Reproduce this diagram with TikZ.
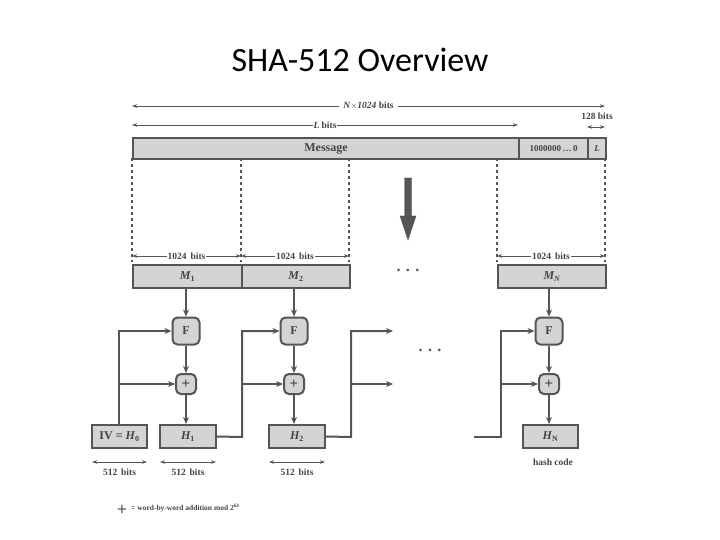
\documentclass[tikz,border=0pt]{standalone}
\usepackage{fontspec}
\setmainfont{Liberation Serif}
\newfontfamily\titlefont{Carlito}
\usetikzlibrary{arrows.meta}
\definecolor{ln}{HTML}{555555}
\definecolor{fl}{HTML}{D4D4D4}
\begin{document}
\begin{tikzpicture}[x=1pt,y=-1pt,
  bx/.style={draw=ln,line width=2pt,fill=fl,inner sep=0pt,font=\bfseries\fontsize{12}{12}\selectfont,text=ln!80!black},
  fbox/.style={bx,rounded corners=5pt,minimum size=27pt},
  pbox/.style={bx,rounded corners=5pt,minimum size=20pt,font=\bfseries\fontsize{15}{15}\selectfont},
  ar/.style={draw=ln,line width=2pt,-{Stealth[length=7pt,width=6pt]}},
  dim/.style={draw=ln,line width=0.8pt,{Stealth[length=5pt,width=3.5pt]}-{Stealth[length=5pt,width=3.5pt]}},
  lbl/.style={font=\bfseries\fontsize{9.5}{9.5}\selectfont,text=ln!80!black,inner sep=1pt},
  dsh/.style={draw=ln,line width=1.6pt,dash pattern=on 3pt off 3pt}]
\useasboundingbox (0,0) rectangle (720,540);
\node[font=\titlefont\fontsize{34}{34}\selectfont] (title) at (360,60) {SHA-512 Overview};
% message bar
\node[bx,minimum width=386pt,minimum height=21pt,anchor=north west] (msg) at (132,137) {Message};
\node[bx,minimum width=69pt,minimum height=21pt,anchor=north west,font=\bfseries\fontsize{9}{9}\selectfont] (pad) at (518,137) {1000000\,\dots\,0};
\node[bx,minimum width=18pt,minimum height=21pt,anchor=north west,font=\bfseries\itshape\fontsize{9}{9}\selectfont] (len) at (587,137) {L};
% top dimensions
\coordinate (a1) at (132,106); \coordinate (a2) at (605,106);
\draw[dim] (a1) -- node[lbl,fill=white,inner xsep=4pt] {\itshape N\upshape$\times$\itshape 1024\upshape\ bits} (a2);
\coordinate (b1) at (132,125); \coordinate (b2) at (518,125);
\draw[dim] (b1) -- node[lbl,fill=white] {\itshape L\upshape\ bits} (b2);
\coordinate (c1) at (587,127); \coordinate (c2) at (605,127);
\draw[dim] (c1) -- (c2);
\node[lbl] (l128) at (597,116) {128 bits};
% dashed lines
\foreach \x/\n in {132/d1,241/d2,349/d3,497/d4,605/d5}{
  \coordinate (\n t) at (\x,158); \coordinate (\n b) at (\x,262);
  \draw[dsh] (\n t) -- (\n b);}
% big arrow
\draw[draw=ln,fill=ln] (404.5,178) -- (411.5,178) -- (411.5,216) -- (416,216) -- (408,240) -- (400,216) -- (404.5,216) -- cycle;
% blocks
\node[bx,minimum width=109pt,minimum height=23pt,anchor=north west,font=\bfseries\itshape\fontsize{12}{12}\selectfont] (M1) at (132,264) {M\textsubscript{\upshape 1}};
\node[bx,minimum width=108pt,minimum height=23pt,anchor=north west,font=\bfseries\itshape\fontsize{12}{12}\selectfont] (M2) at (241,264) {M\textsubscript{\upshape 2}};
\node[bx,minimum width=108pt,minimum height=23pt,anchor=north west,font=\bfseries\itshape\fontsize{12}{12}\selectfont] (MN) at (497,264) {M\textsubscript{N}};
\node[font=\bfseries\fontsize{16}{16}\selectfont,text=ln] (dots1) at (408,270) {.\,\,.\,\,.};
\foreach \l/\r/\n in {132/241/m1,241/349/m2,497/605/mn}{
  \coordinate (\n l) at (\l,256); \coordinate (\n r) at (\r,256);
  \draw[dim] (\n l) -- node[lbl,fill=white] {1024\, bits} (\n r);}
% F and + boxes
\node[fbox] (F1) at (186,331) {F};
\node[fbox] (F2) at (294,331) {F};
\node[fbox] (FN) at (549,331) {F};
\node[pbox] (P1) at (186,384) {+};
\node[pbox] (P2) at (294,384) {+};
\node[pbox] (PN) at (549,384) {+};
\node[bx,minimum width=55pt,minimum height=23pt] (H0) at (119.5,436.5) {IV = \itshape H\textsubscript{\upshape 0}};
\node[bx,minimum width=56pt,minimum height=23pt,font=\bfseries\itshape\fontsize{12}{12}\selectfont] (H1) at (188,436.5) {H\textsubscript{\upshape 1}};
\node[bx,minimum width=56pt,minimum height=23pt,font=\bfseries\itshape\fontsize{12}{12}\selectfont] (H2) at (297,436.5) {H\textsubscript{\upshape 2}};
\node[bx,minimum width=55pt,minimum height=23pt,font=\bfseries\itshape\fontsize{12}{12}\selectfont] (HN) at (550.5,436.5) {H\textsubscript{\upshape N}};
\draw[ar] (M1.south -| F1) -- (F1);
\draw[ar] (M2.south -| F2) -- (F2);
\draw[ar] (MN.south -| FN) -- (FN);
\draw[ar] (F1) -- (P1); \draw[ar] (P1) -- (P1 |- H1.north);
\draw[ar] (F2) -- (P2); \draw[ar] (P2) -- (P2 |- H2.north);
\draw[ar] (FN) -- (PN); \draw[ar] (PN) -- (PN |- HN.north);
% feedback
\coordinate (k0) at (119,331); \coordinate (k0p) at (119,384);
\draw[ar] (H0.north -| k0) -- (k0) -- (F1);
\draw[ar] (k0p) -- (P1);
\coordinate (k1) at (242,437); \coordinate (k1t) at (242,331); \coordinate (k1p) at (242,384);
\draw[ar] (H1.east) -- (k1) -- (k1t) -- (F2);
\draw[ar] (k1p) -- (P2);
\coordinate (k2) at (351,437); \coordinate (k2t) at (351,331); \coordinate (k2p) at (351,384);
\coordinate (e2t) at (393,331); \coordinate (e2p) at (393,384);
\draw[ar] (H2.east) -- (k2) -- (k2t) -- (e2t);
\draw[ar] (k2p) -- (e2p);
\coordinate (s3) at (474,437); \coordinate (k3) at (501,437); \coordinate (k3t) at (501,331); \coordinate (k3p) at (501,384);
\draw[ar] (s3) -- (k3) -- (k3t) -- (FN);
\draw[ar] (k3p) -- (PN);
\node[font=\bfseries\fontsize{16}{16}\selectfont,text=ln] (dots2) at (430,350) {.\,\,.\,\,.};
% 512 bits
\foreach \h/\n in {H0/q0,H1/q1,H2/q2}{
  \coordinate (\n l) at ([xshift=1pt]\h.west |- 0,462); \coordinate (\n r) at ([xshift=-1pt]\h.east |- 0,462);
  \draw[dim] (\n l) -- (\n r);
  \node[lbl] (\n t) at (\h.south |- 0,472) {512\, bits};}
\node[lbl] (hc) at (553,462) {hash code};
% legend
\node[font=\bfseries\fontsize{18}{18}\selectfont,text=ln] (lp) at (122,510) {+};
\node[lbl,anchor=west,font=\bfseries\fontsize{7.5}{7.5}\selectfont] (lt) at (130,508) {= word-by-word addition mod 2\textsuperscript{64}};
\end{tikzpicture}
\end{document}
